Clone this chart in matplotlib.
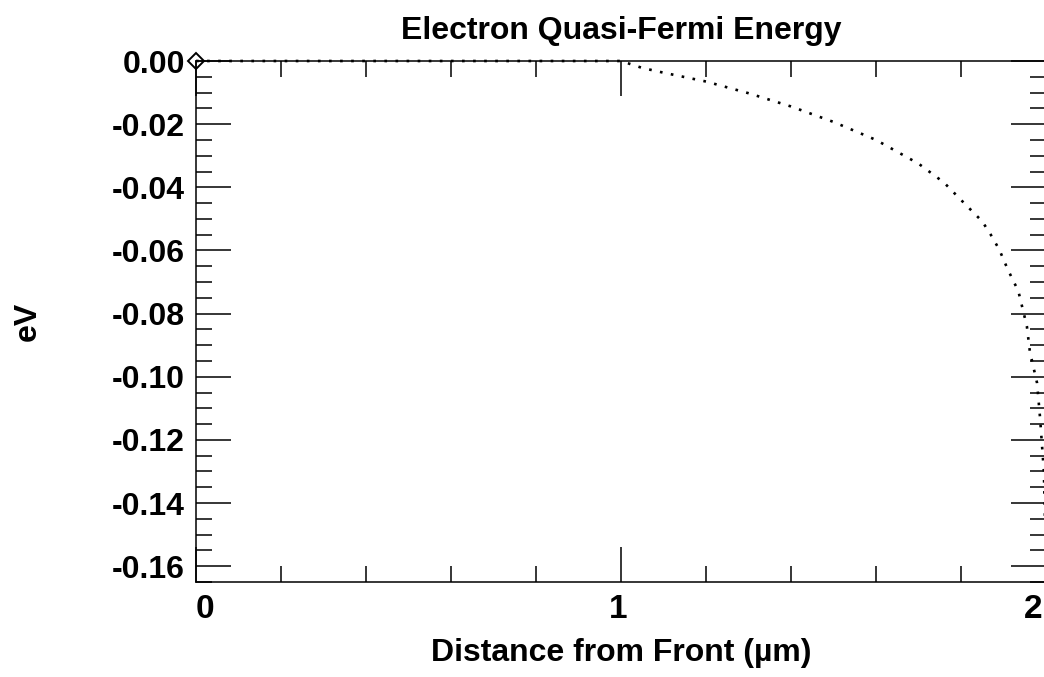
import numpy as np
import matplotlib
matplotlib.use("Agg")
import matplotlib.pyplot as plt
import matplotlib.transforms as mtransforms
from matplotlib.ticker import MultipleLocator, FixedLocator

# Electron quasi-Fermi energy vs. distance from front surface
dist_um = [0.0, 0.2, 0.4, 0.6, 0.8, 1.0, 1.05, 1.1, 1.2, 1.3, 1.4, 1.5, 1.6,
           1.7, 1.76, 1.8, 1.85, 1.87, 1.89, 1.91, 1.935, 1.955, 1.962,
           1.979, 1.986, 1.995, 2.0]
efn_ev = [0.0, 0.0, 0.0, 0.0, 0.0, 0.0, -0.0022, -0.0037, -0.0065, -0.0102,
          -0.0144, -0.0193, -0.025, -0.0325, -0.0385, -0.044, -0.0508,
          -0.055, -0.0597, -0.066, -0.0729, -0.084, -0.092, -0.102, -0.113,
          -0.13, -0.16]
x_ticks = [0, 1, 2]
x_ticklabels = ['0', '1', '2']

plt.rcParams['font.family'] = ['Liberation Sans', 'DejaVu Sans']
plt.rcParams['font.weight'] = 'bold'
plt.rcParams['axes.titleweight'] = 'bold'
plt.rcParams['axes.labelweight'] = 'bold'

fig = plt.figure(figsize=(10.44, 6.77), dpi=100)
ax = fig.add_axes([196 / 1044, 95 / 677, 850 / 1044, 521 / 677])

ax.plot(dist_um, efn_ev, color='black', lw=1.9, linestyle=(0, (1, 3.2)),
        clip_on=False)
ax.plot(dist_um[0], efn_ev[0], marker='D', ms=8.5, mfc='none', mec='black',
        mew=1.4, clip_on=False)

ax.set_xlim(0, 2)
ax.set_ylim(-0.165, 0.0)

ax.xaxis.set_major_locator(FixedLocator(x_ticks))
ax.xaxis.set_minor_locator(MultipleLocator(0.2))
ax.yaxis.set_major_locator(MultipleLocator(0.02))
ax.yaxis.set_minor_locator(MultipleLocator(0.005))
ax.set_xticklabels(x_ticklabels)
ax.yaxis.set_major_formatter(plt.FuncFormatter(lambda v, p: f"{v:.2f}"))

ax.tick_params(which='both', direction='in', top=True, right=True,
               width=1.1, colors='black')
ax.tick_params(which='major', length=25)
ax.tick_params(which='minor', length=11.5)
ax.tick_params(axis='y', pad=8, labelsize=23)
ax.tick_params(axis='x', pad=9, labelsize=24)

# nudge x tick labels the way the original plot places them
for lab, dx in zip(ax.get_xticklabels(), [9, -3, -13]):
    lab.set_transform(lab.get_transform() +
                      mtransforms.ScaledTranslation(dx / 100, 0, fig.dpi_scale_trans))

for s in ax.spines.values():
    s.set_linewidth(1.1)

ax.set_title("Electron Quasi-Fermi Energy", fontsize=23, pad=16)
ax.set_xlabel("Distance from Front (µm)", fontsize=23, labelpad=9)
ax.set_ylabel("eV", fontsize=23, labelpad=50)

fig.savefig("out.png", dpi=100)
